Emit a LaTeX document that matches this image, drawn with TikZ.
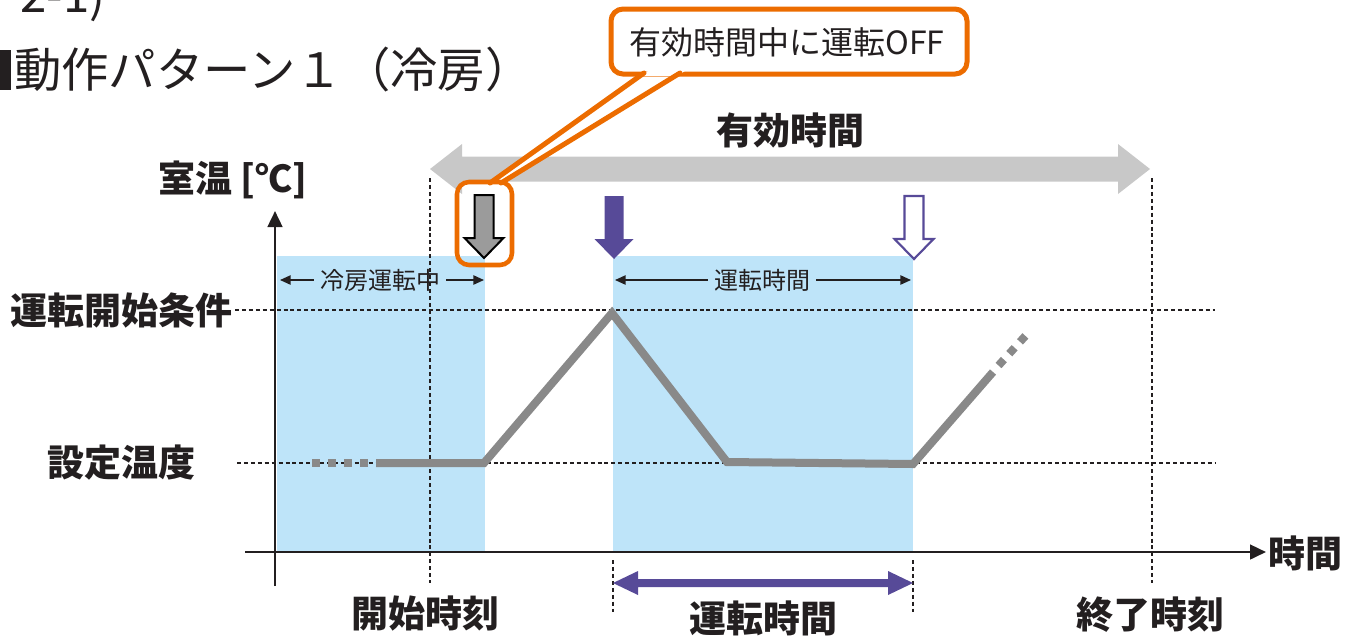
\documentclass[tikz,border=0pt]{standalone}
\usepackage{fontspec}
\setmainfont{Noto Sans CJK JP}
\usetikzlibrary{arrows.meta}
\definecolor{ink}{RGB}{35,31,32}
\definecolor{skyb}{RGB}{190,228,249}
\definecolor{tracegray}{RGB}{137,137,137}
\definecolor{bandgray}{RGB}{200,200,200}
\definecolor{arrowgray}{RGB}{155,155,155}
\definecolor{purp}{RGB}{87,74,152}
\definecolor{callout}{RGB}{236,108,0}
\tikzset{
  lab/.style={font=\fontsize{27.75pt}{32pt}\selectfont\bfseries, text=ink, inner sep=0pt},
  titlelab/.style={font=\fontsize{35.5pt}{40pt}\selectfont, text=ink, inner sep=0pt},
  calloutlab/.style={font=\fontsize{24pt}{27pt}\selectfont, text=ink, inner sep=0pt},
  smalllab/.style={font=\fontsize{18pt}{20pt}\selectfont, text=ink, inner xsep=4.5pt, inner ysep=0pt},
  guide/.style={draw=ink, line width=0.8pt, dash pattern=on 3pt off 2.2pt},
  dimarrow/.style={draw=ink, line width=1.1pt, -{Triangle[length=8pt,width=7pt]}},
  axisline/.style={draw=ink, line width=1.9pt, -{Triangle[length=12pt,width=11pt]}},
  trace/.style={draw=tracegray, line width=6pt},
  tracedots/.style={draw=tracegray, line width=6pt, dash pattern=on 6pt off 6pt},
  dnarrow/.pic={\path[pic actions] (-9.5,0) -- (9.5,0) -- (9.5,43) -- (19.5,43) -- (0,63) -- (-19.5,43) -- (-9.5,43) -- cycle;}
}
\begin{document}
\begin{tikzpicture}[x=0.75pt,y=-0.75pt]
\useasboundingbox (0,0) rectangle (1358,637);

% header texts
\node[titlelab, anchor=base west] (hdr) at (-27,12) {】2-1)};
\fill[ink] (-1,50) rectangle (11,90);
\node[titlelab, anchor=west] (title) at (14,70) {動作パターン１（冷房）};

% blue running regions
\fill[skyb] (277,256) rectangle (485,552);
\fill[skyb] (613,256) rectangle (913,552);

% guide lines
\draw[guide] (235,310) -- (1215,310);
\draw[guide] (237,463) -- (1215,463);
\draw[guide] (430,178) -- (430,583);
\draw[guide] (1152,178) -- (1152,583);
\draw[guide] (613,560) -- (613,612);
\draw[guide] (913,560) -- (913,612);

% axes
\coordinate (yb) at (275,586);
\coordinate (yt) at (275,211);
\coordinate (xl) at (245,552);
\coordinate (xr) at (1266,552);
\draw[axisline] (yb) -- (yt);
\draw[axisline] (xl) -- (xr);

% temperature trace
\draw[tracedots] (312,463) -- (376,463);
\draw[trace] (376,463) -- (484,463) -- (612,313) -- (727,462) -- (913,464) -- (993,372);
\draw[tracedots] (998.5,365.5) -- (1028,333);

% effective-time band arrow
\fill[bandgray] (430,169) -- (462,144) -- (462,156.5) -- (1118,156.5) -- (1118,144) -- (1150,169)
  -- (1118,194) -- (1118,181.5) -- (462,181.5) -- (462,194) -- cycle;
\node[lab] (eff) at (790,130) {有効時間};

% down arrows
\pic[draw=black, line width=1.5pt, fill=arrowgray] at (484,195) {dnarrow};
\pic[fill=purp] at (614,196) {dnarrow};
\pic[draw=purp, line width=1.6pt, fill=white] at (914,196) {dnarrow};

% callout tail, box and highlight
\fill[white] (651,69) -- (490,183) -- (501,183) -- (688,69) -- cycle;
\draw[draw=callout, line width=3.75pt, fill=white, rounded corners=9pt] (611,9) rectangle (967,74);
\fill[white] (651,69) -- (641,76) -- (677,76) -- (688,69) -- cycle;
\draw[callout, line width=3.75pt, line cap=round] (644,73) -- (490,183);
\draw[callout, line width=3.75pt, line cap=round] (680,73) -- (501,183);
\draw[callout, line width=3.4pt, rounded corners=9pt] (457,182) rectangle (512,265);
\node[calloutlab] (off) at (787,42) {有効時間中に運転OFF};

% dimension labels inside blue regions
\node[smalllab] (cool) at (380,280) {冷房運転中};
\draw[dimarrow] (cool.west) -- (280,280);
\draw[dimarrow] (cool.east) -- (484,280);
\node[smalllab] (runin) at (762,280) {運転時間};
\draw[dimarrow] (runin.west) -- (615,280);
\draw[dimarrow] (runin.east) -- (911,280);

% bottom running time arrow
\fill[purp] (613,583) -- (638,571) -- (638,579) -- (888,579) -- (888,571) -- (913,583)
  -- (888,595) -- (888,587) -- (638,587) -- (638,595) -- cycle;

% axis labels
\node[lab, anchor=west] (ylab) at (158,180) {室温 [℃]};
\node[lab] (cond) at (121,310) {運転開始条件};
\node[lab] (setp) at (121,463) {設定温度};
\node[lab, anchor=west] (xlab) at (1268,553) {時間};
\node[lab] (start) at (425,613) {開始時刻};
\node[lab] (run) at (763,618) {運転時間};
\node[lab] (stop) at (1150,615) {終了時刻};
\end{tikzpicture}
\end{document}
